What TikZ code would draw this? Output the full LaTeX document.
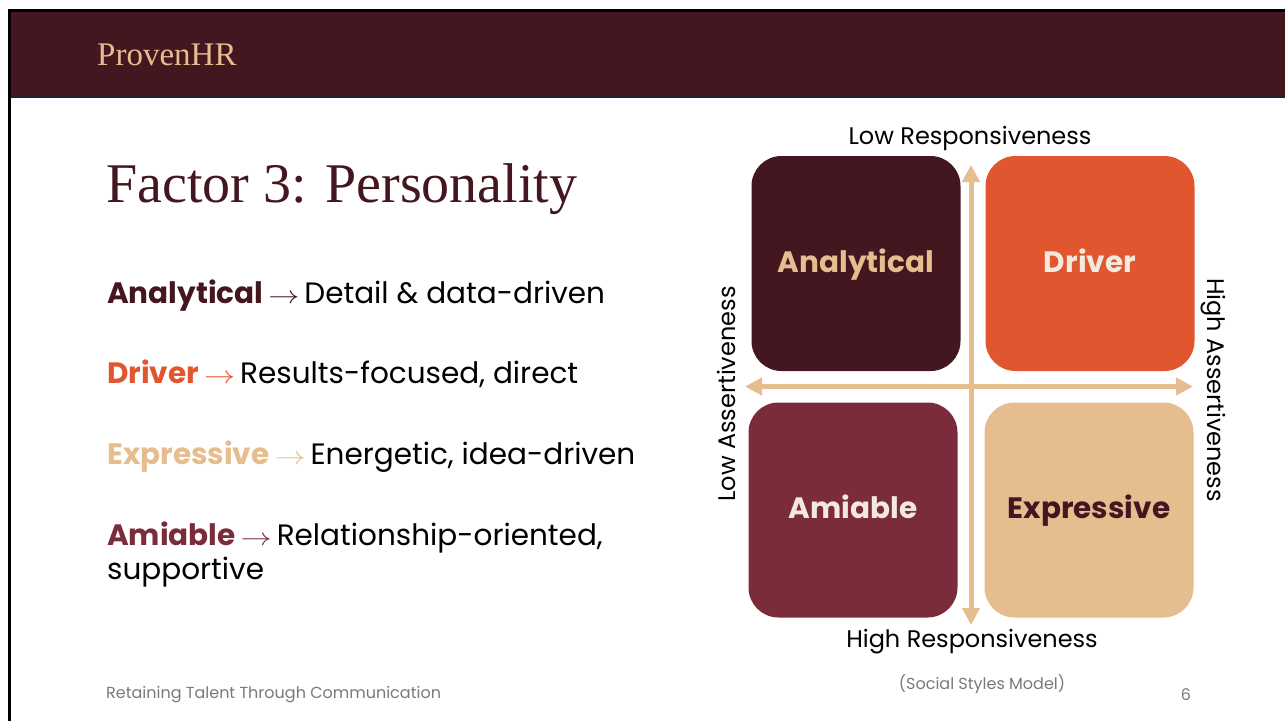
\documentclass[tikz,border=0pt]{standalone}
\usepackage{fontspec}
\usepackage{graphicx}
\setmainfont{Poppins}
\newfontfamily\headserif{Liberation Serif}
\usetikzlibrary{arrows.meta}

\definecolor{maroon}{HTML}{44161F}
\definecolor{rust}{HTML}{E2562F}
\definecolor{sand}{HTML}{E6BD8E}
\definecolor{wine}{HTML}{7B2C3A}
\definecolor{cream}{HTML}{F3E9DC}
\definecolor{footgrey}{HTML}{7A7A7A}
\definecolor{rule}{HTML}{1B2333}

\newcommand{\px}[1]{\fontsize{#1}{#1}\selectfont}
\newcommand{\arr}{\,\scalebox{1.25}[1]{$\rightarrow$}\,}

\tikzset{
  quad/.style={rounded corners=30pt, minimum width=209pt, minimum height=215pt,
    inner sep=0pt, text height=22pt, text depth=5pt, font=\px{29.5}\bfseries},
  axis/.style={draw=sand, line width=5pt,
    {Triangle[width=17pt,length=17pt]}-{Triangle[width=17pt,length=17pt]}},
  item/.style={anchor=base west, inner sep=0pt, font=\px{29.5}},
  axislabel/.style={inner sep=0pt, font=\px{24}},
  foot/.style={inner sep=0pt, text=footgrey, font=\px{16}}
}

\begin{document}
\begin{tikzpicture}[x=1pt,y=-1pt]
  \useasboundingbox (0,0) rectangle (1285,721);
  \fill[white] (0,0) rectangle (1285,721);

  % slide frame and header band
  \fill[black] (8,9) rectangle (1285,12);
  \fill[black] (8,9) rectangle (11,721);
  \fill[maroon] (11,12) rectangle (1285,96);
  \fill[rule] (11,96) rectangle (1285,97.5);

  \node[anchor=base west, inner sep=0pt, text=sand, font=\headserif\px{33}] (brand) at (97,65) {ProvenHR};

  % title
  \node[anchor=base west, inner sep=0pt, text=maroon, font=\headserif\px{56}] (title) at (106,202) {Factor 3: Personality};

  % list of styles
  \node[item] (l1) at (107,303) {\textcolor{maroon}{\textbf{Analytical}\arr}Detail \& data-driven};
  \node[item] (l2) at (107,383) {\textcolor{rust}{\textbf{Driver}\arr}Results-focused, direct};
  \node[item] (l3) at (107,464) {\textcolor{sand}{\textbf{Expressive}\arr}Energetic, idea-driven};
  \node[item] (l4) at (107,545) {\textcolor{wine}{\textbf{Amiable}\arr}Relationship-oriented,};
  \node[item] (l4b) at (107,579) {supportive};

  % quadrants
  \node[quad, fill=maroon, text=sand]   (qa) at (856,263.5) {Analytical};
  \node[quad, fill=rust,   text=cream]  (qd) at (1090,263.5) {Driver};
  \node[quad, fill=wine,   text=cream]  (qm) at (853,510) {Amiable};
  \node[quad, fill=sand,   text=maroon] (qe) at (1089,510) {Expressive};

  % axes
  \coordinate (vt) at (971,165);
  \coordinate (vb) at (971,625);
  \coordinate (hl) at (745,386.5);
  \coordinate (hr) at (1193,386.5);
  \draw[axis] (vt) -- (vb);
  \draw[axis] (hl) -- (hr);

  \node[axislabel] (lowr) at (970,138) {Low Responsiveness};
  \node[axislabel] (highr) at (972,642) {High Responsiveness};
  \node[axislabel, rotate=90] (lowa) at (726,394) {Low Assertiveness};
  \node[axislabel, rotate=-90] (higha) at (1213,390) {High Assertiveness};

  % footer
  \node[foot] (model) at (982,684) {(Social Styles Model)};
  \node[foot, anchor=west] (ftitle) at (106,695) {Retaining Talent Through Communication};
  \node[foot] (page) at (1186,695) {6};
\end{tikzpicture}
\end{document}
